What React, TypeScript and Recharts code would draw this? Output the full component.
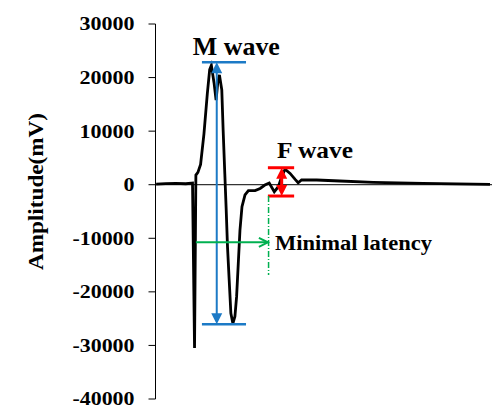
import React from 'react';
import { LineChart, Line, XAxis, YAxis, ReferenceLine, ReferenceDot } from 'recharts';

// time axis is unlabeled in the original, so units are arbitrary (0..100)
const TIME = [
  0.2, 3, 6, 9, 11.0, 11.6, 12.0, 12.6, 13.4, 14.4, 15.4, 16.1, 16.6, 17.4, 18.0, 18.5, 19.0,
  19.7, 20.1, 20.6, 21.0, 21.4, 21.9, 22.4, 23.0, 23.6, 24.1, 24.6, 25.1, 25.7, 26.6,
  27.6, 29.6, 31.1, 32.5, 33.8, 35.3, 36.5, 37.5, 38.5, 40.0, 41.5, 42.4, 43.4, 47.9,
  54.8, 64.7, 79.5, 99.4,
];
const AMPLITUDE = [
  100, 200, 250, 180, 300, -30500, 1800, 2300, 3800, 9500, 17000, 21500, 22300, 19000, 15800,
  19000, 20500, 17700, 10200, 2000, -4500, -11600, -17800, -24000, -25900, -24600,
  -20900, -14700, -8500, -4100, -1900, -1100, -1100, -700, -60, 300, -1300, -370, 1500,
  2900, 2100, 1000, 370, 880, 880, 690, 450, 260, 75,
];
const Y_TICKS = [-40000, -30000, -20000, -10000, 0, 10000, 20000, 30000];

// annotation anchors (same units as the data)
const M_WAVE = { x: 18.2, top: 22850, bottom: -26060, barFrom: 13.8, barTo: 26.9 };
const F_WAVE = { x: 37.5, top: 3170, bottom: -2110, barFrom: 33.4, barTo: 41.2 };
const LATENCY = { from: 12.0, to: 33.4, y: -10750, markX: 33.6, markTop: -2110, markBottom: -16860 };
const LABELS = [
  { text: 'M wave', x: 11.1, y: 24200, size: 25, len: 87 },
  { text: 'F wave', x: 36.1, y: 4930, size: 24, len: 76 },
  { text: 'Minimal latency', x: 35.5, y: -12200, size: 20, len: 157 },
];

const data = TIME.map((t, i) => ({ t, v: AMPLITUDE[i] }));

const SERIF = "'Liberation Serif', 'DejaVu Serif', serif";
const BLUE = '#1C7AC6';
const RED = '#FF0000';
const GREEN = '#00B050';

const arrowShape =
  (color: string, width: number, head: number, both: boolean, open = false) => (p: any) => {
    const { x1, y1, x2, y2 } = p;
    if ([x1, y1, x2, y2].some((n) => typeof n !== 'number' || isNaN(n))) return <g />;
    const a = Math.atan2(y2 - y1, x2 - x1);
    const c = Math.cos(a);
    const s = Math.sin(a);
    const half = head * 0.5;
    const tip = (x: number, y: number, dir: number) => {
      const bx = x - dir * head * c;
      const by = y - dir * head * s;
      const pts = `${bx - s * half},${by + c * half} ${x},${y} ${bx + s * half},${by - c * half}`;
      return open ? (
        <polyline points={pts} fill="none" stroke={color} strokeWidth={width} />
      ) : (
        <polygon points={pts} fill={color} stroke="none" />
      );
    };
    const sx = both && !open ? x1 + head * 0.8 * c : x1;
    const sy = both && !open ? y1 + head * 0.8 * s : y1;
    const ex = open ? x2 : x2 - head * 0.8 * c;
    const ey = open ? y2 : y2 - head * 0.8 * s;
    return (
      <g>
        <line x1={sx} y1={sy} x2={ex} y2={ey} stroke={color} strokeWidth={width} />
        {tip(x2, y2, 1)}
        {both && tip(x1, y1, -1)}
      </g>
    );
  };

const textShape = (text: string, size: number, len: number) => (p: any) => (
  <text
    x={p.cx}
    y={p.cy}
    style={{ fontFamily: SERIF }}
    fontWeight="bold"
    fontSize={size}
    textLength={len}
    lengthAdjust="spacingAndGlyphs"
    fill="#000"
  >
    {text}
  </text>
);

// the original's digits are drawn a little wide, so stretch them to fit
const YTick = (p: any) => {
  const s = String(p.payload.value);
  const len = s.replace('-', '').length * 11 + (s.startsWith('-') ? 7 : 0);
  return (
    <text
      x={p.x}
      y={p.y}
      dy="0.36em"
      textAnchor="end"
      style={{ fontFamily: SERIF }}
      fontWeight="bold"
      fontSize={18}
      textLength={len}
      lengthAdjust="spacingAndGlyphs"
      fill="#000"
    >
      {s}
    </text>
  );
};

const axisLabel = (p: any) => {
  const vb = p.viewBox || { x: 0, y: 24, width: 155, height: 375 };
  const cx = vb.x + 34.5;
  const cy = vb.y + vb.height / 2 - 20;
  return (
    <text
      x={cx}
      y={cy}
      transform={`rotate(-90, ${cx}, ${cy})`}
      textAnchor="middle"
      dy="0.35em"
      style={{ fontFamily: SERIF }}
      fontWeight="bold"
      fontSize={22}
      textLength={157}
      lengthAdjust="spacingAndGlyphs"
      fill="#000"
    >
      Amplitude(mV)
    </text>
  );
};

export default function App() {
  return (
    <div style={{ position: 'absolute', left: 0, top: 0, background: '#fff', fontFamily: SERIF }}>
      <LineChart width={497} height={419} data={data} margin={{ top: 24, right: 5, bottom: 20, left: 0.5 }}>
        <XAxis type="number" dataKey="t" domain={[0, 100]} hide />
        <YAxis
          type="number"
          domain={[-40000, 30000]}
          ticks={Y_TICKS}
          interval={0}
          width={155}
          tickSize={7}
          tickMargin={14}
          axisLine={{ stroke: '#000' }}
          tickLine={{ stroke: '#000' }}
          tick={YTick}
          label={axisLabel}
        />
        <ReferenceLine y={0} stroke="#000" strokeWidth={1} />
        <Line type="linear" dataKey="v" stroke="#000" strokeWidth={2.8} dot={false} isAnimationActive={false} />

        {/* M wave amplitude */}
        <ReferenceLine segment={[{ x: M_WAVE.barFrom, y: M_WAVE.top }, { x: M_WAVE.barTo, y: M_WAVE.top }]} stroke={BLUE} strokeWidth={2.5} />
        <ReferenceLine segment={[{ x: M_WAVE.barFrom, y: M_WAVE.bottom }, { x: M_WAVE.barTo, y: M_WAVE.bottom }]} stroke={BLUE} strokeWidth={2.5} />
        <ReferenceLine
          segment={[{ x: M_WAVE.x, y: M_WAVE.bottom }, { x: M_WAVE.x, y: M_WAVE.top }]}
          shape={arrowShape(BLUE, 2, 11, true)}
        />

        {/* F wave amplitude */}
        <ReferenceLine segment={[{ x: F_WAVE.barFrom, y: F_WAVE.top }, { x: F_WAVE.barTo, y: F_WAVE.top }]} stroke={RED} strokeWidth={3} />
        <ReferenceLine segment={[{ x: F_WAVE.barFrom, y: F_WAVE.bottom }, { x: F_WAVE.barTo, y: F_WAVE.bottom }]} stroke={RED} strokeWidth={3} />
        <ReferenceLine
          segment={[{ x: F_WAVE.x, y: F_WAVE.bottom }, { x: F_WAVE.x, y: F_WAVE.top }]}
          shape={arrowShape(RED, 3, 11, true)}
        />

        {/* minimal latency */}
        <ReferenceLine
          segment={[{ x: LATENCY.markX, y: LATENCY.markTop }, { x: LATENCY.markX, y: LATENCY.markBottom }]}
          stroke={GREEN}
          strokeWidth={1.5}
          strokeDasharray="6 2 1 2"
        />
        <ReferenceLine
          segment={[{ x: LATENCY.from, y: LATENCY.y }, { x: LATENCY.to, y: LATENCY.y }]}
          shape={arrowShape(GREEN, 2, 9, false, true)}
        />

        {LABELS.map((l) => (
          <ReferenceDot key={l.text} x={l.x} y={l.y} r={0} shape={textShape(l.text, l.size, l.len)} />
        ))}
      </LineChart>
    </div>
  );
}
